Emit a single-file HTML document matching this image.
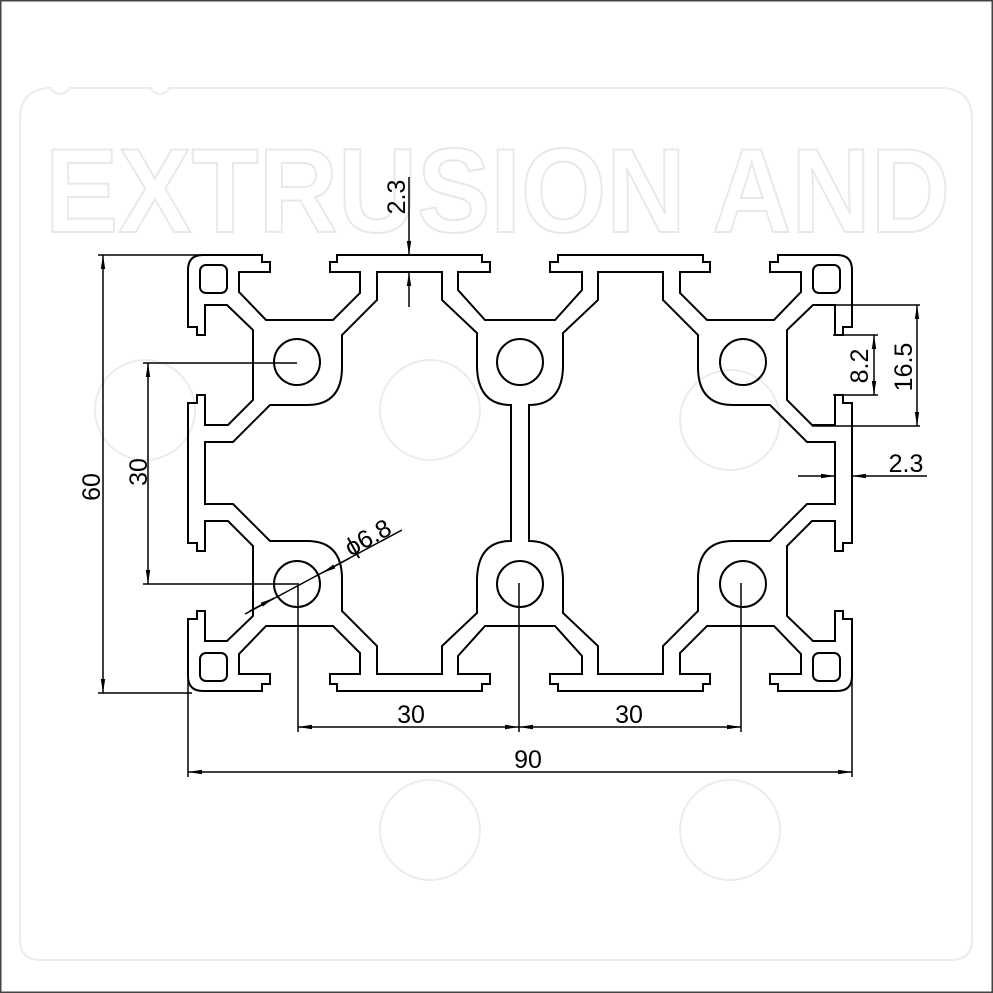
<!DOCTYPE html>
<html><head><meta charset="utf-8"><style>
html,body{margin:0;padding:0;background:#fff}
svg{display:block}
text{font-family:"Liberation Sans",sans-serif;font-size:25px;fill:#000}
</style></head><body>
<svg width="993" height="993" viewBox="0 0 993 993" xmlns="http://www.w3.org/2000/svg">
<defs>
<marker id="a" viewBox="0 0 14 6" refX="14" refY="3" markerWidth="14" markerHeight="6" markerUnits="userSpaceOnUse" orient="auto-start-reverse"><path d="M0,0.8 L14,3 L0,5.2Z" fill="#000"/></marker>
</defs>
<rect x="0.5" y="0.5" width="992" height="992" fill="none" stroke="#444" stroke-width="2"/>
<g fill="none" stroke="#ececec" stroke-width="2">
<path d="M20,120 Q20,88 52,88 H50 Q60,100 70,88 H150 Q160,100 170,88 H940 Q972,88 972,120 V940 Q972,960 950,960 H40 Q20,960 20,940Z"/>
<circle cx="145" cy="410" r="50"/><circle cx="430" cy="410" r="50"/><circle cx="730" cy="420" r="50"/>
<circle cx="430" cy="830" r="50"/><circle cx="730" cy="830" r="50"/>
<text x="45" y="232" style="font-size:120px;fill:none;stroke:#e8e8e8;stroke-width:2;font-weight:bold" textLength="905" lengthAdjust="spacingAndGlyphs">EXTRUSION  AND</text>
</g>
<g fill="none" stroke="#000" stroke-width="2" stroke-linejoin="miter">
<g id="q">
<path d="M188,473 V403 H197 V395 H205 V425 H228 L253,400 V330 L227,305 H205 V335 H197 V327 H188 V270 Q188,255 203,255 H262 V262 H270 V272 H239 V292 L266,320 H333 L360,293 V272 H330 V262 H337 V255 H482 V262 H490 V272 H458 V290 L485,320 H520"/>
<path d="M205,473 V442 H233 L270,405 H307 Q342,405 342,367 V335 L377,300 V272 H442 V300 L477,333 V367 Q478,405 511,405 V473"/>
<rect x="200" y="265" width="27" height="28" rx="6"/>
<circle cx="297" cy="362" r="23"/>
</g>
<use href="#q" transform="translate(1040,0) scale(-1,1)"/>
<use href="#q" transform="translate(0,946) scale(1,-1)"/>
<use href="#q" transform="translate(1040,946) scale(-1,-1)"/>
<circle cx="520" cy="362" r="23"/>
<circle cx="520" cy="584" r="23"/>
</g>
<g stroke="#000" stroke-width="1.5" fill="none">
<path d="M98,255 H200 M98,693 H192"/>
<path d="M103,255 V693" marker-start="url(#a)" marker-end="url(#a)"/>
<path d="M143,363 H297 M143,584 H297"/>
<path d="M148,363 V584" marker-start="url(#a)" marker-end="url(#a)"/>
<path d="M298,583 V732 M519,583 V732 M741,583 V732"/>
<path d="M298,727 H519" marker-start="url(#a)" marker-end="url(#a)"/>
<path d="M519,727 H741" marker-start="url(#a)" marker-end="url(#a)"/>
<path d="M188,680 V777 M852,620 V777"/>
<path d="M188,772 H852" marker-start="url(#a)" marker-end="url(#a)"/>
<path d="M409,177 V255" marker-end="url(#a)"/>
<path d="M409,307 V272" marker-end="url(#a)"/>
<path d="M813,305 H920 M812,426 H920 M833,335 H878 M833,395 H878"/>
<path d="M917,305 V426" marker-start="url(#a)" marker-end="url(#a)"/>
<path d="M874,335 V395" marker-start="url(#a)" marker-end="url(#a)"/>
<path d="M798,476 H835" marker-end="url(#a)"/>
<path d="M927,476 H852" marker-end="url(#a)"/>
<path d="M245,614 L402,530"/>
<path d="M250,611 L274,598" marker-end="url(#a)"/>
<path d="M350,558 L322,573" marker-end="url(#a)"/>
</g>
<g>
<text transform="translate(100,487) rotate(-90)" text-anchor="middle">60</text>
<text transform="translate(147,472) rotate(-90)" text-anchor="middle">30</text>
<text transform="translate(405,197) rotate(-90)" text-anchor="middle">2.3</text>
<text transform="translate(868,366) rotate(-90)" text-anchor="middle">8.2</text>
<text transform="translate(912,367) rotate(-90)" text-anchor="middle">16.5</text>
<text x="906" y="472" text-anchor="middle">2.3</text>
<text x="411" y="723" text-anchor="middle">30</text>
<text x="629" y="723" text-anchor="middle">30</text>
<text x="528" y="768" text-anchor="middle">90</text>
<text transform="translate(372,545) rotate(-29)" text-anchor="middle">ϕ6.8</text>
</g>
</svg>
</body></html>
